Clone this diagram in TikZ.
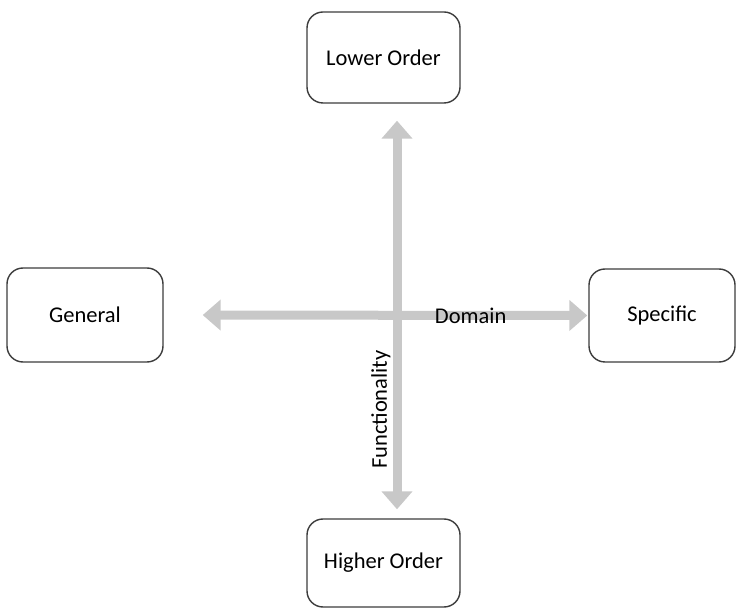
\documentclass[tikz,border=0pt]{standalone}
\usepackage{fontspec}
\setmainfont{Carlito}
\usetikzlibrary{arrows.meta, positioning}
\definecolor{axisgray}{RGB}{200,200,200}
\definecolor{boxline}{RGB}{60,60,60}

\begin{document}
\begin{tikzpicture}[
        x=1pt, y=1pt,
        every node/.style={font=\fontsize{22.5}{27}\selectfont, text=black},
        box/.style={draw=boxline, line width=1.4pt, rectangle, rounded corners=16pt, fill=white, align=center},
        axis/.style={{Triangle[width=30pt,length=18pt]}-{Triangle[width=30pt,length=18pt]}, line width=9pt, draw=axisgray}
    ]
        \useasboundingbox (0,0) rectangle (736,608);
        % Nodes
        \node[box, minimum width=153pt, minimum height=91pt] (lower) at (383.5,550.5) {Lower Order};
        \node[box, minimum width=153pt, minimum height=88pt] (higher) at (383.5,45) {Higher Order};
        \node[box, minimum width=156pt, minimum height=94pt] (general) at (85,293) {General};
        \node[box, minimum width=146pt, minimum height=93pt] (specific) at (662,292.5) {Specific};

        % Arrows
        \draw[axis, shorten <=39pt, shorten >=1pt] (general.east) -- (specific.west)
            node[pos=0.723] (domain) {Domain};
        \draw[axis, shorten <=17pt, shorten >=9pt] ([xshift=13.5pt]lower.south) -- ([xshift=13.5pt]higher.north)
            node[pos=0.738, rotate=90, anchor=south, inner ysep=2pt] (func) {Functionality};
    \end{tikzpicture}
\end{document}
